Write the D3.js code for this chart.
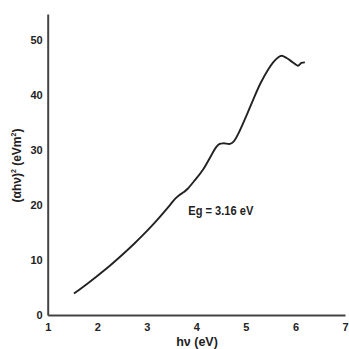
<!DOCTYPE html>
<html><head><meta charset="utf-8">
<script src="https://cdn.jsdelivr.net/npm/d3@7"></script>
<style>html,body{margin:0;padding:0;background:#fff;}svg{display:block;}</style>
</head><body>
<script>
const hv = [1.53,1.8,2.0,2.26,2.5,2.75,2.93,3.1,3.26,3.45,3.57,3.66,3.74,3.82,3.97,4.14,4.3,4.40,4.47,4.55,4.68,4.76,4.85,5.0,5.15,5.3,5.45,5.55,5.65,5.72,5.82,5.95,6.05,6.12,6.19];
const ahv2 = [3.9,5.7,7.1,9.0,10.9,13.0,14.6,16.2,17.8,19.8,21.1,21.8,22.3,22.9,24.5,26.5,29.0,30.5,31.1,31.2,31.1,31.6,33.0,36.0,39.2,42.2,44.6,45.9,46.8,47.1,46.7,45.9,45.3,45.8,45.9];
const xTicks = [1,2,3,4,5,6,7];
const yTicks = [0,10,20,30,40,50];
const annotation = "Eg = 3.16 eV";

const W = 349, H = 349;
const svg = d3.select("body").append("svg").attr("width", W).attr("height", H);
const x = d3.scaleLinear().domain([1,7]).range([47.7,345]);
const y = d3.scaleLinear().domain([0,54.7]).range([315,14]);
const font = "'Liberation Sans', Arial, sans-serif";

const xa = svg.append("g").attr("transform","translate(0,315)")
  .call(d3.axisBottom(x).tickValues(xTicks).tickSize(0).tickSizeOuter(0).tickPadding(6).tickFormat(d3.format("d")));
const ya = svg.append("g").attr("transform","translate(47.7,0)")
  .call(d3.axisLeft(y).tickValues(yTicks).tickSize(0).tickSizeOuter(0).tickPadding(5).tickFormat(d3.format("d")));
[xa,ya].forEach(a=>{
  a.select(".domain").attr("stroke","#444").attr("stroke-width",2);
  a.selectAll("text").attr("font-family",font).attr("font-weight","bold").attr("font-size",11).attr("fill","#222");
});
xa.selectAll("text").attr("dy","0.9em");

const line = d3.line().x((d,i)=>x(hv[i])).y(d=>y(d)).curve(d3.curveCatmullRom);
svg.append("path").attr("d", line(ahv2)).attr("fill","none").attr("stroke","#222").attr("stroke-width",1.9);

svg.append("text").attr("x",188.3).attr("y",214.5).attr("font-family",font).attr("font-weight","bold")
  .attr("font-size",13.5).attr("fill","#222").attr("textLength",65).attr("lengthAdjust","spacingAndGlyphs").text(annotation);

svg.append("text").attr("x",197).attr("y",346).attr("text-anchor","middle").attr("font-family",font).attr("font-weight","bold")
  .attr("font-size",12.5).attr("fill","#222").text("hν (eV)");

const yl = svg.append("text").attr("transform","translate(21,165.5) rotate(-90)").attr("text-anchor","middle")
  .attr("font-family",font).attr("font-weight","bold").attr("font-size",12).attr("fill","#222");
yl.append("tspan").text("(αhν)");
yl.append("tspan").attr("font-size",7).attr("dy",-5).text("2");
yl.append("tspan").attr("dy",5).text(" (eVm");
yl.append("tspan").attr("font-size",7).attr("dy",-5).text("2");
yl.append("tspan").attr("dy",5).text(")");
</script>
</body></html>
